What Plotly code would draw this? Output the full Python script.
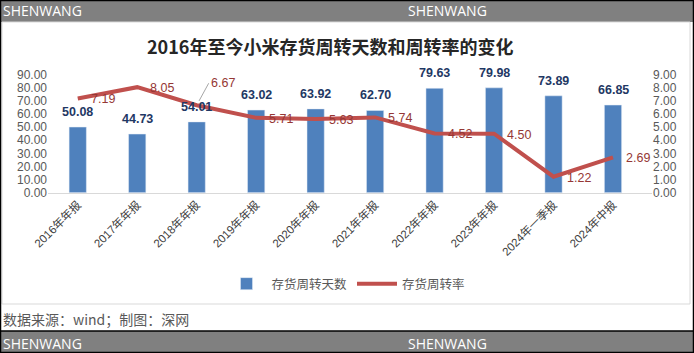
import plotly.graph_objects as go

categories = ["2016年年报", "2017年年报", "2018年年报", "2019年年报", "2020年年报",
              "2021年年报", "2022年年报", "2023年年报", "2024年一季报", "2024年中报"]
days = [50.08, 44.73, 54.01, 63.02, 63.92, 62.70, 79.63, 79.98, 73.89, 66.85]
rate = [7.19, 8.05, 6.67, 5.71, 5.63, 5.74, 4.52, 4.50, 1.22, 2.69]
title = "2016年至今小米存货周转天数和周转率的变化"
source = "数据来源：wind；制图：深网"
brand = "SHENWANG"

W, H = 694, 353
def py(pix):
    return 1 - pix / H

CJK = "Noto Sans CJK SC"
BAR_C = "#4F81BD"
LINE_C = "#C0504D"

fig = go.Figure()
fig.add_trace(go.Bar(x=categories, y=days, name="存货周转天数", marker_color=BAR_C,
                     width=0.29, yaxis="y"))
fig.add_trace(go.Scatter(x=categories, y=rate, name="存货周转率", mode="lines",
                         line=dict(color=LINE_C, width=4), yaxis="y2"))

ann = []
for c, v in zip(categories, days):
    ann.append(dict(x=c, y=v, xref="x", yref="y", text=f"<b>{v:.2f}</b>", showarrow=False,
                    yshift=15, font=dict(family="Liberation Sans, " + CJK, size=12.5, color="#1F3864")))
for c, v in zip(categories, rate):
    if v == 6.67:
        ann.append(dict(x=c, y=v, xref="x", yref="y2", text=f"{v:.2f}", showarrow=True,
                        arrowhead=0, arrowwidth=1, arrowcolor="#A6A6A6", ax=12, ay=-22,
                        xanchor="left", standoff=5,
                        font=dict(family="Liberation Sans", size=12.5, color="#953735")))
    else:
        ann.append(dict(x=c, y=v, xref="x", yref="y2", text=f"{v:.2f}", showarrow=False,
                        xanchor="left", xshift=11, yshift=-1,
                        font=dict(family="Liberation Sans", size=12.5, color="#953735")))

ann.append(dict(x=330 / W, y=py(46), xref="paper", yref="paper", text=f"<b>{title}</b>",
                showarrow=False, xanchor="center", yanchor="middle",
                font=dict(family=CJK, size=18, color="#262626")))
ann.append(dict(x=1 / W, y=py(319), xref="paper", yref="paper", text=source,
                showarrow=False, xanchor="left", yanchor="middle",
                font=dict(family=CJK, size=14, color="#595959")))
for yy in (11, 343):
    for xx in (1, 406):
        ann.append(dict(x=xx / W, y=py(yy), xref="paper", yref="paper", text=brand,
                        showarrow=False, xanchor="left", yanchor="middle",
                        font=dict(family="Open Sans, Noto Sans", size=14, color="white")))

shapes = [
    dict(type="rect", xref="paper", yref="paper", x0=0, x1=1, y0=py(22), y1=1,
         fillcolor="#808080", line=dict(width=0), layer="below"),
    dict(type="rect", xref="paper", yref="paper", x0=0, x1=1, y0=0, y1=py(331),
         fillcolor="#808080", line=dict(width=0), layer="below"),
    dict(type="line", xref="paper", yref="paper", x0=0, x1=1, y0=py(331), y1=py(331),
         line=dict(color="black", width=1.5)),
    dict(type="rect", xref="paper", yref="paper", x0=2 / W, x1=690 / W, y0=py(304), y1=py(22),
         fillcolor="rgba(0,0,0,0)", line=dict(color="#D9D9D9", width=1)),
    dict(type="rect", xref="paper", yref="paper", x0=0.5 / W, x1=1 - 0.5 / W, y0=0.5 / H, y1=1 - 0.5 / H,
         fillcolor="rgba(0,0,0,0)", line=dict(color="black", width=1.5)),
]

tickfont = dict(family="Liberation Sans", size=12, color="#595959")
fig.update_layout(
    width=W, height=H, margin=dict(l=0, r=0, t=0, b=0, autoexpand=False),
    paper_bgcolor="white", plot_bgcolor="white",
    xaxis=dict(domain=[48 / W, 652 / W], tickangle=-45, showgrid=False, automargin=False,
               showline=True, linecolor="#D9D9D9", linewidth=1, ticks="",
               tickfont=dict(family="Liberation Sans, " + CJK, size=11.5, color="#404040")),
    yaxis=dict(domain=[py(192.7), py(74.7)], range=[0, 90], dtick=10, tickformat=".2f",
               automargin=False, showgrid=False, zeroline=False, tickfont=tickfont, ticks=""),
    yaxis2=dict(overlaying="y", side="right", range=[0, 9], dtick=1, tickformat=".2f",
                automargin=False, showgrid=False, zeroline=False, tickfont=tickfont, ticks="",
                anchor="x"),
    legend=dict(orientation="h", x=346 / W, xanchor="center", y=py(284), yanchor="middle",
                font=dict(family=CJK, size=12.5, color="#595959"), itemwidth=40,
                bgcolor="rgba(0,0,0,0)", tracegroupgap=0),
    annotations=ann, shapes=shapes, showlegend=True,
)
fig.write_html("out.html")
